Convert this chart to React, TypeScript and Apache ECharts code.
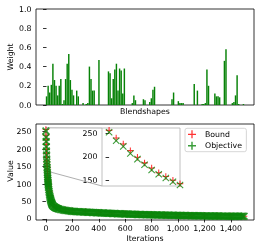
import React, { useEffect, useRef } from "react";
import * as echarts from "echarts";

// ---- Top panel: blendshape weights (125 blendshapes) ----
const WEIGHTS = [
  0.09, 0.2, 0.13, 0.21, 0.43, 0.26, 0.2, 0.1, 0.2, 0.27,
  0.01, 0.05, 0.27, 0.43, 0.53, 0.26, 0.16, 0.1, 0.0, 0.15,
  0.09, 0.0, 0.0, 0.02, 0.0, 0.01, 0.02, 0.4, 0.27, 0.15,
  0.15, 0.0, 0.0, 0.47, 0.0, 0.0, 0.0, 0.0, 0.0, 0.35,
  0.33, 0.07, 0.27, 0.37, 0.43, 0.15, 0.38, 0.36, 0.12, 0.38,
  0.0, 0.0, 0.0, 0.0, 0.02, 0.1, 0.05, 0.0, 0.0, 0.0,
  0.0, 0.06, 0.05, 0.0, 0.0, 0.03, 0.07, 0.16, 0.19, 0.0,
  0.0, 0.0, 0.0, 0.0, 0.0, 0.0, 0.0, 0.0, 0.0, 0.06,
  0.13, 0.0, 0.0, 0.04, 0.02, 0.02, 0.02, 0.0, 0.0, 0.0,
  0.0, 0.0, 0.0, 0.22, 0.0, 0.15, 0.0, 0.0, 0.01, 0.01,
  0.02, 0.37, 0.2, 0.0, 0.0, 0.0, 0.12, 0.09, 0.09, 0.08,
  0.0, 0.0, 0.46, 0.58, 0.0, 0.0, 0.0, 0.02, 0.03, 0.1,
  0.31, 0.01, 0.0, 0.0, 0.01,
];
const WEIGHT_TICKS = [0, 0.2, 0.4, 0.6, 0.8, 1.0];

// ---- Bottom panel: optimisation history ----
const OBJ_ITER = [
  0, 1, 2, 3, 4, 5, 6, 7, 8, 9, 10, 11, 12, 13, 14, 15, 16, 17, 18, 19, 20,
  22, 24, 26, 28, 30, 32, 34, 36, 38, 40, 42, 44, 46, 48, 50,
  55, 60, 65, 70, 75, 80, 85, 90, 95,
  100, 110, 120, 130, 140, 150, 160, 170, 180, 190,
  200, 210, 220, 230, 240, 250, 260, 270, 280, 290,
  300, 310, 320, 330, 340, 350, 360, 370, 380, 390,
  400, 410, 420, 430, 440, 450, 460, 470, 480, 490,
  500, 510, 520, 530, 540, 550, 560, 570, 580, 590,
  600, 610, 620, 630, 640, 650, 660, 670, 680, 690,
  700, 710, 720, 730, 740, 750, 760, 770, 780, 790,
  800, 810, 820, 830, 840, 850, 860, 870, 880, 890,
  900, 910, 920, 930, 940, 950, 960, 970, 980, 990,
  1000, 1010, 1020, 1030, 1040, 1050, 1060, 1070, 1080, 1090,
  1100, 1110, 1120, 1130, 1140, 1150, 1160, 1170, 1180, 1190,
  1200, 1210, 1220, 1230, 1240, 1250, 1260, 1270, 1280, 1290,
  1300, 1310, 1320, 1330, 1340, 1350, 1360, 1370, 1380, 1390,
  1400, 1410, 1420, 1430, 1440, 1450, 1460, 1470, 1480, 1490,
  1500,
];
const OBJECTIVE = [
  252, 234, 222, 207, 195, 183, 172, 163, 155, 147, 140, 133, 127, 121, 116, 111, 106, 102, 98, 94, 90,
  84, 79, 74, 69, 65, 61, 58, 55, 52, 49, 47, 45, 43, 41, 39,
  37, 35.5, 34, 33, 32, 31, 30.2, 29.5, 28.8,
  28.2, 27.2, 26.4, 25.7, 25.0, 24.4, 23.8, 23.3, 22.8, 22.3,
  21.9, 21.5, 21.2, 21.0, 20.8, 20.6, 20.4, 20.2, 20.0, 19.8,
  19.6, 19.4, 19.2, 19.0, 18.8, 18.6, 18.4, 18.2, 18.0, 17.8,
  17.6, 17.4, 17.2, 17.0, 16.8, 16.7, 16.5, 16.3, 16.1, 16.0,
  15.8, 15.6, 15.5, 15.3, 15.1, 15.0, 14.8, 14.7, 14.5, 14.4,
  14.2, 14.1, 13.9, 13.8, 13.7, 13.5, 13.4, 13.3, 13.1, 13.0,
  12.9, 12.8, 12.7, 12.5, 12.4, 12.3, 12.2, 12.1, 12.0, 11.9,
  11.8, 11.7, 11.6, 11.5, 11.4, 11.3, 11.2, 11.2, 11.1, 11.0,
  10.9, 10.8, 10.7, 10.7, 10.6, 10.5, 10.4, 10.4, 10.3, 10.2,
  10.1, 10.1, 10.0, 9.9, 9.8, 9.8, 9.7, 9.6, 9.5, 9.5,
  9.4, 9.4, 9.3, 9.3, 9.2, 9.1, 9.0, 9.0, 8.9, 8.9,
  8.8, 8.8, 8.7, 8.7, 8.6, 8.6, 8.5, 8.5, 8.4, 8.4,
  8.3, 8.3, 8.2, 8.2, 8.1, 8.1, 8.1, 8.0, 8.0, 7.9,
  7.9, 7.9, 7.8, 7.8, 7.7, 7.7, 7.7, 7.6, 7.6, 7.5,
  7.5,
];
const BOUND_ITER = [
  0, 1, 2, 3, 4, 5, 6, 7, 8, 9, 10, 11, 12, 13, 14, 15, 16, 17, 18, 19, 20,
  25, 30, 40, 50, 60, 80, 100, 150, 200,
  300, 400, 500, 600, 700, 800, 900, 1000, 1100, 1200, 1300, 1400, 1500,
];
const BOUND = [
  256, 240, 227, 213, 199, 187, 176, 166, 158, 150, 143, 136, 130, 124, 119, 114, 109, 105, 101, 97, 93,
  79, 67, 51, 41, 37, 32.5, 29.6, 25.4, 23.1,
  20.4, 18.3, 16.4, 14.8, 13.4, 12.3, 11.3, 10.5, 9.8, 9.2, 8.6, 8.2, 7.8,
];
const ITER_TICKS = [0, 200, 400, 600, 800, 1000, 1200, 1400];
const VALUE_TICKS = [0, 50, 100, 150, 200, 250];
const INSET_TICKS = [150, 200, 250];
const INSET_XLIM = [-1, 10];
const INSET_YLIM = [138, 261];

const PLUS = "path://M4.2,0H5.8V4.2H10V5.8H5.8V10H4.2V5.8H0V4.2H4.2Z";
const CROSS = "path://M4.4,0H5.6V4.4H10V5.6H5.6V10H4.4V5.6H0V4.4H4.4Z";
const CROSS_BOLD = "path://M4.1,0H5.9V4.1H10V5.9H5.9V10H4.1V5.9H0V4.1H4.1Z";

export default function App() {
  const ref = useRef<HTMLDivElement>(null);
  useEffect(() => {
    const chart = echarts.init(ref.current!, null, { renderer: "svg" });
    const font = "DejaVu Sans";
    const fs = 7.8;
    const lbl = { color: "#000", fontSize: fs, fontFamily: font, margin: 4.5 };
    const tick = { show: true, length: 3.5, lineStyle: { color: "#000", width: 0.8 } };
    const frame = { show: true, borderColor: "#000", borderWidth: 0.8, backgroundColor: "#fff" };
    const barData = WEIGHTS.map((v, i) => [i, v]);
    const objData = OBJECTIVE.map((v, i) => [OBJ_ITER[i], v]);
    const boundData = BOUND.map((v, i) => [BOUND_ITER[i], v]);
    const boundStyle = { color: "#ff0000" };
    const objStyle = { color: "#0a860a" };

    chart.setOption({
      animation: false,
      textStyle: { fontFamily: font },
      grid: [
        { left: 36, top: 9, width: 218, height: 96, ...frame },
        { left: 36, top: 124, width: 218, height: 96, ...frame },
        { left: 102, top: 128, width: 78, height: 58, show: true, borderColor: "#b0b0b0", borderWidth: 0.8, backgroundColor: "#fff" },
      ],
      xAxis: [
        { type: "value", gridIndex: 0, min: -6.64, max: 130.64, axisLine: { show: false }, axisTick: { show: false }, axisLabel: { show: false }, splitLine: { show: false } },
        {
          type: "value", gridIndex: 1, min: -75, max: 1575,
          axisLine: { show: false },
          axisTick: { ...tick, customValues: ITER_TICKS },
          axisLabel: { ...lbl, customValues: ITER_TICKS },
          splitLine: { show: false },
        },
        { type: "value", gridIndex: 2, min: INSET_XLIM[0], max: INSET_XLIM[1], show: false, splitLine: { show: false } },
      ],
      yAxis: [
        {
          type: "value", gridIndex: 0, min: 0, max: 1,
          axisLine: { show: false },
          axisTick: { ...tick, customValues: WEIGHT_TICKS },
          axisLabel: { ...lbl, customValues: WEIGHT_TICKS, formatter: (v: number) => v.toFixed(1) },
          splitLine: { show: false },
        },
        {
          type: "value", gridIndex: 1, min: -3, max: 272,
          axisLine: { show: false },
          axisTick: { ...tick, customValues: VALUE_TICKS },
          axisLabel: { ...lbl, customValues: VALUE_TICKS },
          splitLine: { show: false },
        },
        {
          type: "value", gridIndex: 2, min: INSET_YLIM[0], max: INSET_YLIM[1],
          axisLine: { show: false },
          axisTick: { ...tick, customValues: INSET_TICKS },
          axisLabel: { ...lbl, customValues: INSET_TICKS },
          splitLine: { show: false },
        },
      ],
      legend: {
        data: ["Bound", "Objective"],
        orient: "vertical",
        left: 185,
        top: 128.3,
        itemWidth: 16,
        itemHeight: 8,
        itemGap: 2.4,
        padding: [1.5, 4.4, 1.5, 3],
        borderColor: "#cccccc",
        borderWidth: 0.8,
        borderRadius: 2,
        backgroundColor: "rgba(255,255,255,0.8)",
        textStyle: { fontSize: fs, color: "#000", fontFamily: font, lineHeight: 9 },
      },
      series: [
        {
          type: "bar", xAxisIndex: 0, yAxisIndex: 0, data: barData, barWidth: 1.45,
          itemStyle: { color: "#078207" },
        },
        {
          name: "Bound", type: "scatter", xAxisIndex: 1, yAxisIndex: 1, data: boundData,
          symbol: PLUS, symbolSize: 6.5, itemStyle: boundStyle,
        },
        {
          name: "Objective", type: "scatter", xAxisIndex: 1, yAxisIndex: 1, data: objData,
          symbol: CROSS_BOLD, symbolSize: 9.5, symbolRotate: 45, itemStyle: objStyle,
        },
        {
          name: "Bound", type: "scatter", xAxisIndex: 2, yAxisIndex: 2, data: boundData,
          symbol: PLUS, symbolSize: 6.5, itemStyle: boundStyle, clip: true,
        },
        {
          name: "Objective", type: "scatter", xAxisIndex: 2, yAxisIndex: 2, data: objData,
          symbol: CROSS, symbolSize: 9, symbolRotate: 45, itemStyle: objStyle, clip: true,
        },
      ],
    });

    const px = (g: number, v: number[]) => chart.convertToPixel({ gridIndex: g } as any, v) as number[];
    const mTL = px(1, [INSET_XLIM[0], INSET_YLIM[1]]);
    const mBL = px(1, [INSET_XLIM[0], INSET_YLIM[0]]);
    const mTR = px(1, [INSET_XLIM[1], INSET_YLIM[1]]);
    const mBR = px(1, [INSET_XLIM[1], INSET_YLIM[0]]);
    const iTL = px(2, [INSET_XLIM[0], INSET_YLIM[1]]);
    const iBL = px(2, [INSET_XLIM[0], INSET_YLIM[0]]);
    const gray = { stroke: "#9a9a9a", lineWidth: 0.8, fill: "none" };
    const txt = (text: string, x: number, y: number, rot = 0) => ({
      type: "text", x, y, rotation: rot,
      style: { text, fontSize: fs, fontFamily: font, fill: "#000", align: "center", verticalAlign: "middle" },
    });

    chart.setOption({
      graphic: [
        txt("Weight", 10.7, 57, Math.PI / 2),
        txt("Blendshapes", 145, 111.7),
        txt("Value", 10.7, 171, Math.PI / 2),
        txt("Iterations", 145, 238.5),
        { type: "polygon", shape: { points: [mTL, mTR, mBR, mBL] }, style: gray, z: 1 },
        { type: "line", shape: { x1: mTL[0], y1: mTL[1], x2: iTL[0], y2: iTL[1] }, style: gray, z: 1 },
        { type: "line", shape: { x1: mBL[0], y1: mBL[1], x2: iBL[0], y2: iBL[1] }, style: gray, z: 1 },
      ],
    });

    return () => chart.dispose();
  }, []);
  return <div ref={ref} style={{ position: "fixed", left: 0, top: 0, width: 260, height: 250 }} />;
}
